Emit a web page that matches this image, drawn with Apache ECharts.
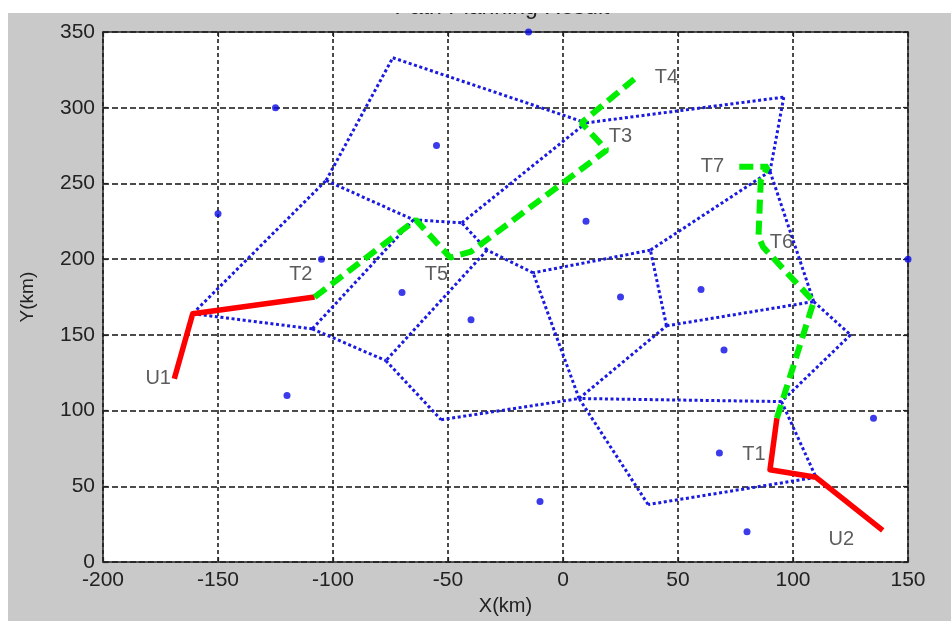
<!DOCTYPE html>
<html>
<head>
<meta charset="utf-8">
<script src="https://cdn.jsdelivr.net/npm/echarts@6/dist/echarts.min.js"></script>
<style>html,body{margin:0;padding:0;background:#fff}#c{width:951px;height:621px}</style>
</head>
<body>
<div id="c"></div>
<script>
// ---- data ----
var xTicks = [-200, -150, -100, -50, 0, 50, 100, 150];
var yTicks = [0, 50, 100, 150, 200, 250, 300, 350];
// sites (blue dots)
var sites = [[-15,350],[-125,300],[-55,275],[-150,230],[-105,200],[-70,178],[-40,160],[-120,110],
  [10,225],[25,175],[60,180],[150,200],[70,140],[135,95],[68,72],[-10,40],[80,20]];
// Voronoi vertices
var vertices = {
  A:[-74,333], B:[-103,252], C:[-161,164], D:[-65,226], E:[-44,224], F:[10,290], G:[96,307],
  H:[90,258], I:[38,206], J:[-13,191], K:[45,156], L:[109,172], M:[125,150], N:[95,106],
  O:[7,108], P:[110,56], Q:[37,38], R:[-53,94], S:[-77,133], T:[-33,206], V:[-109,154]
};
// Voronoi edges
var edges = [['C','B'],['B','A'],['A','F'],['B','D'],['D','E'],['E','F'],['F','G'],['G','H'],
  ['H','I'],['I','J'],['J','T'],['T','E'],['T','S'],['D','V'],['V','C'],['V','S'],['S','R'],
  ['R','O'],['O','J'],['O','K'],['K','I'],['K','L'],['H','L'],['L','M'],['M','N'],['N','O'],
  ['N','P'],['P','Q'],['Q','O']];
// paths
var redPath1 = [[-169,121],[-161,164],[-108,175]];
var greenPath1 = [[-108,175],[-64,226],[-49,201],[-40,205],[19,272],[8,290],[31,319]];
var redPath2 = [[139,21],[110,56],[90,61],[93,95]];
var greenPath2 = [[93,95],[109,172],[87,208],[85,215],[86,252],[89,261],[75,261]];
// point labels
var labelNames = ['U1','T2','T5','T3','T4','T7','T6','T1','U2'];
var labelPos = [[-176,121],[-114,190],[-55,190],[25,281],[45,320],[65,261],[95,211],[83,71],[121,15]];

// ---- chart ----
var chart = echarts.init(document.getElementById('c'), null, {renderer:'canvas'});
var FONT = "'Liberation Sans', Arial, sans-serif";
var edgeData = edges.map(function(e){ return {coords:[vertices[e[0]], vertices[e[1]]]}; });
var labelData = labelNames.map(function(n,i){ return {name:n, value:labelPos[i]}; });

function axisCommon(){
  return {
    axisLine:{show:true, onZero:false, lineStyle:{color:'#222', width:1.5}},
    axisTick:{show:true, inside:true, length:5, lineStyle:{color:'#222', width:1.2}},
  };
}
var xMain = Object.assign(axisCommon(), {
  type:'value', min:xTicks[0], max:xTicks[xTicks.length-1], interval:50, position:'bottom',
  axisLabel:{color:'#222', fontSize:21, fontFamily:FONT, margin:8},
  splitLine:{show:true, lineStyle:{color:'#111', width:1.5, type:[4,3]}},
  name:'X(km)', nameLocation:'middle', nameGap:33,
  nameTextStyle:{color:'#222', fontSize:20, fontFamily:FONT}
});
var xTop = Object.assign(axisCommon(), {
  type:'value', min:xTicks[0], max:xTicks[xTicks.length-1], interval:50, position:'top',
  axisLabel:{show:false}, splitLine:{show:false}
});
var yMain = Object.assign(axisCommon(), {
  type:'value', min:yTicks[0], max:yTicks[yTicks.length-1], interval:50, position:'left',
  axisLabel:{color:'#222', fontSize:21, fontFamily:FONT, margin:8},
  splitLine:{show:true, lineStyle:{color:'#111', width:1.5, type:[6,3]}},
  name:'Y(km)', nameLocation:'middle', nameGap:66,
  nameTextStyle:{color:'#222', fontSize:19, fontFamily:FONT}
});
var yRight = Object.assign(axisCommon(), {
  type:'value', min:yTicks[0], max:yTicks[yTicks.length-1], interval:50, position:'right',
  axisLabel:{show:false}, splitLine:{show:false}
});

chart.setOption({
  animation:false,
  backgroundColor:'#c9c9c9',
  graphic:[
    {type:'rect', z:100, shape:{x:0, y:0, width:951, height:13}, style:{fill:'#fff'}},
    {type:'rect', z:100, shape:{x:0, y:0, width:8, height:621}, style:{fill:'#fff'}},
    {type:'text', z:50, style:{x:502, y:8, text:'Path Planning Result', fill:'#222',
      font:'23px ' + FONT, align:'center', verticalAlign:'middle'}}
  ],
  grid:{left:103, right:43, top:32, bottom:57, show:true, backgroundColor:'#fff', borderWidth:0},
  xAxis:[xMain, xTop],
  yAxis:[yMain, yRight],
  series:[
    {type:'lines', coordinateSystem:'cartesian2d', xAxisIndex:0, yAxisIndex:0, z:3,
      data:edgeData, silent:true,
      lineStyle:{color:'#1a1ae0', width:3, type:[3,2.6], opacity:1, curveness:0}},
    {type:'scatter', data:sites, symbol:'circle', symbolSize:7, z:4, clip:false,
      itemStyle:{color:'#0a0ae6'}},
    {type:'line', data:redPath1, showSymbol:false, symbol:'none', z:5,
      lineStyle:{color:'#ff0000', width:5.5, join:'round'}},
    {type:'line', data:redPath2, showSymbol:false, symbol:'none', z:5,
      lineStyle:{color:'#ff0000', width:5.5, join:'round'}},
    {type:'line', data:greenPath1, showSymbol:false, symbol:'none', z:6,
      lineStyle:{color:'#00ee00', width:6, type:[14,7]}},
    {type:'line', data:greenPath2, showSymbol:false, symbol:'none', z:6,
      lineStyle:{color:'#00ee00', width:6, type:[14,7]}},
    {type:'scatter', data:labelData, symbolSize:1, z:7, clip:false,
      itemStyle:{color:'rgba(0,0,0,0)'},
      label:{show:true, position:'inside', formatter:'{b}', color:'#333', fontSize:20, fontFamily:FONT}}
  ]
});
</script>
</body>
</html>
